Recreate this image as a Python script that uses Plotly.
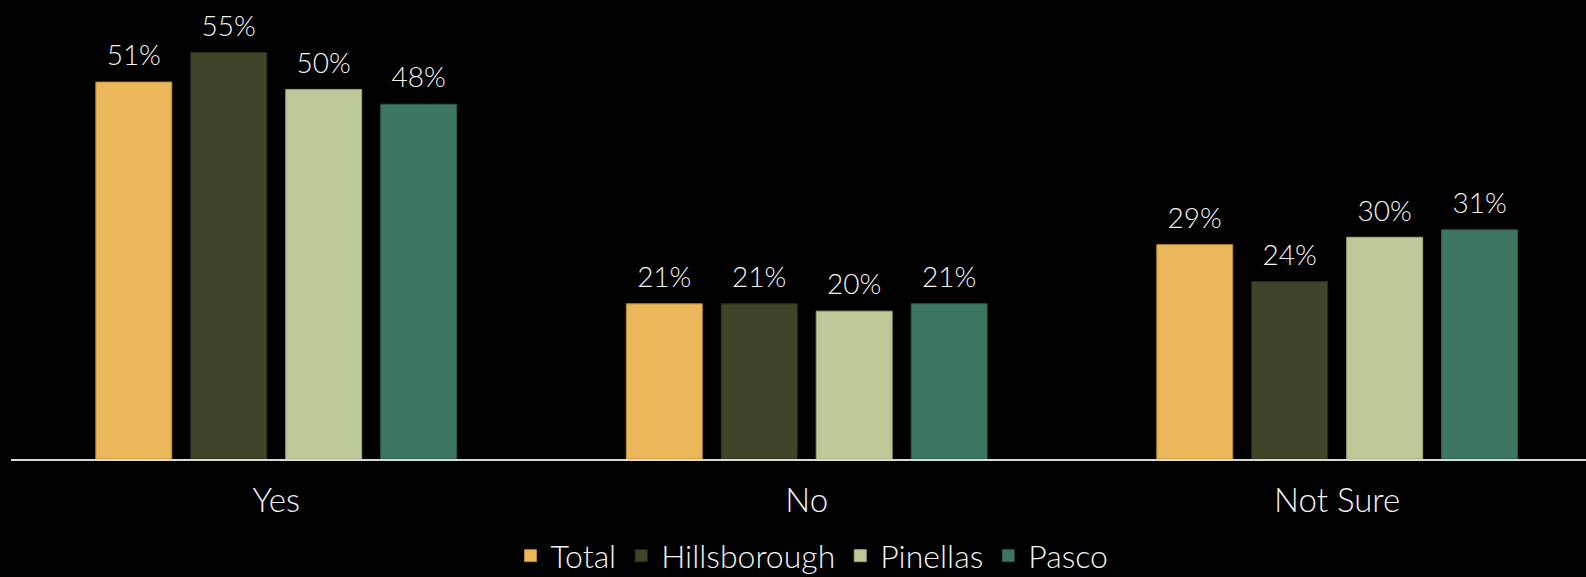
import plotly.graph_objects as go

categories = ["Yes", "No", "Not Sure"]
series_names = ["Total", "Hillsborough", "Pinellas", "Pasco"]
total = [51, 21, 29]
hillsborough = [55, 21, 24]
pinellas = [50, 20, 30]
pasco = [48, 21, 31]
colors = ["#EBB75B", "#3E4528", "#BDC999", "#3D7660"]
outlines = ["#B8893A", "#2A301B", "#9AA67A", "#2C5A48"]

values = [total, hillsborough, pinellas, pasco]
FONT = "Lato"
TXT = "#F2F2F2"

fig = go.Figure()
for name, vals, col, ol in zip(series_names, values, colors, outlines):
    fig.add_trace(go.Bar(
        name=name, x=categories, y=vals, offsetgroup=name,
        marker=dict(color=col, line=dict(color=ol, width=1)),
        hoverinfo="skip",
    ))
for name, vals in zip(series_names, values):
    fig.add_trace(go.Scatter(
        x=categories, y=vals, offsetgroup=name, mode="markers+text",
        text=[f"{v}%" for v in vals], textposition="top center",
        marker=dict(size=14, opacity=0, color="black"),
        textfont=dict(color=TXT, size=28, family=FONT, weight=300),
        cliponaxis=False, showlegend=False, hoverinfo="skip",
    ))

fig.update_layout(
    width=1586, height=577,
    paper_bgcolor="#000000", plot_bgcolor="#000000",
    margin=dict(l=11, r=0, t=0, b=118, autoexpand=False),
    barmode="group", bargap=0.284, bargroupgap=0.2,
    scattermode="group", scattergap=0.284,
    font=dict(family=FONT, color=TXT, weight=300),
    showlegend=True,
    legend=dict(orientation="h", x=0.5086, xanchor="center", y=-0.211, yanchor="middle",
                font=dict(size=32, color=TXT, family=FONT, weight=300),
                bgcolor="rgba(0,0,0,0)", traceorder="normal"),
    xaxis=dict(range=[-0.5, 2.469], showline=True, linecolor="#D9D9D9", linewidth=2,
               tickfont=dict(size=33, color=TXT, family=FONT, weight=300),
               ticks="", ticklabelstandoff=11, showgrid=False, zeroline=False),
    yaxis=dict(range=[0, 62.1], visible=False, showgrid=False, zeroline=False),
)

fig.write_html(
    "out.html",
    config={"displayModeBar": False},
    post_script="document.body.style.margin='0';document.body.style.overflow='hidden';",
)
